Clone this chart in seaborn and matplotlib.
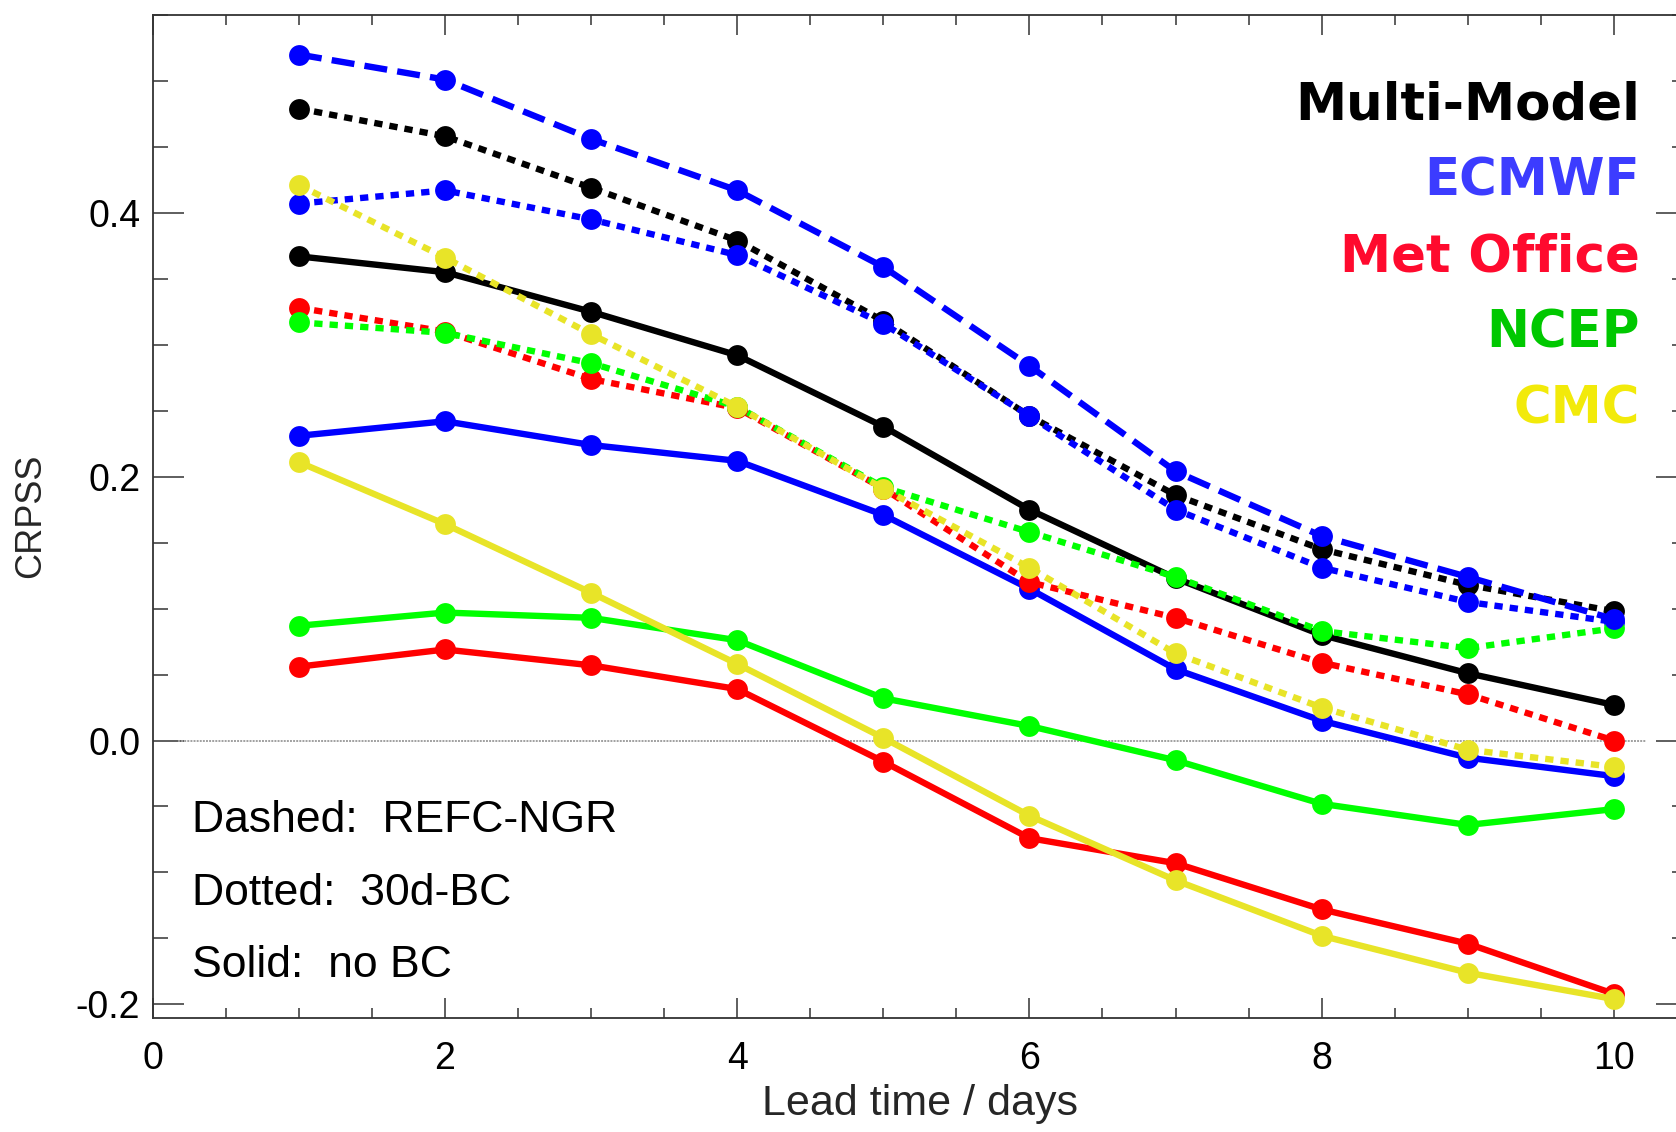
import numpy as np
import pandas as pd
import matplotlib
matplotlib.use("Agg")
import matplotlib.pyplot as plt
import seaborn as sns
from matplotlib.ticker import MultipleLocator

# ---------------- data ----------------
lead_days = [1, 2, 3, 4, 5, 6, 7, 8, 9, 10]

mm_solid   = [0.367, 0.355, 0.325, 0.292, 0.238, 0.175, 0.123, 0.080, 0.051, 0.027]
mm_dotted  = [0.479, 0.458, 0.419, 0.379, 0.318, 0.246, 0.186, 0.145, 0.118, 0.098]

ec_solid   = [0.231, 0.242, 0.224, 0.212, 0.171, 0.115, 0.054, 0.015, -0.013, -0.027]
ec_dotted  = [0.407, 0.417, 0.395, 0.368, 0.316, 0.246, 0.175, 0.131, 0.105, 0.090]
ec_dashed  = [0.520, 0.501, 0.456, 0.417, 0.359, 0.284, 0.204, 0.155, 0.124, 0.092]

mo_solid   = [0.056, 0.069, 0.057, 0.039, -0.016, -0.074, -0.093, -0.128, -0.154, -0.192]
mo_dotted  = [0.328, 0.310, 0.274, 0.252, 0.191, 0.120, 0.093, 0.059, 0.035, 0.000]

nc_solid   = [0.087, 0.097, 0.093, 0.076, 0.032, 0.011, -0.015, -0.048, -0.064, -0.052]
nc_dotted  = [0.317, 0.309, 0.286, 0.253, 0.192, 0.158, 0.124, 0.083, 0.070, 0.085]

cmc_solid  = [0.211, 0.164, 0.112, 0.058, 0.002, -0.057, -0.106, -0.148, -0.176, -0.196]
cmc_dotted = [0.421, 0.366, 0.308, 0.253, 0.191, 0.131, 0.066, 0.025, -0.007, -0.020]

model_names  = ["Multi-Model", "ECMWF", "Met Office", "NCEP", "CMC"]
line_colors  = ["#000000", "#0000ff", "#ff0000", "#00ff00", "#e8e428"]
label_colors = ["#000000", "#3c3cff", "#ff0a2e", "#00c800", "#f2ea0a"]

x_ticks = [0, 2, 4, 6, 8, 10]
y_ticks = [-0.2, 0.0, 0.2, 0.4]
y_ticklabels = ["-0.2", "0.0", "0.2", "0.4"]

notes = ["Dashed:  REFC-NGR", "Dotted:  30d-BC", "Solid:  no BC"]

# ---------------- style ----------------
sns.set_style("ticks")
plt.rcParams["font.family"] = ["Liberation Sans", "DejaVu Sans"]

fig = plt.figure(figsize=(16.76, 11.32), dpi=100)
ax = fig.add_axes([0.0912, 0.1011, 0.9153, 0.8857])

# zero reference line
ax.plot([0.17, 10.22], [0.0, 0.0], color="#a0a0a0", lw=1.4,
        linestyle=(0, (1, 0.6)), zorder=1)

LW = 4.6
MS = 15
dotted = (0, (1.3, 1.1))
dashed = (0, (3.6, 1.6))

series = [
    # solid (no BC)
    (mm_solid, 0, "-"), (ec_solid, 1, "-"), (mo_solid, 2, "-"),
    (nc_solid, 3, "-"), (cmc_solid, 4, "-"),
    # dotted (30d-BC)
    (mm_dotted, 0, dotted), (ec_dotted, 1, dotted), (mo_dotted, 2, dotted),
    (nc_dotted, 3, dotted), (cmc_dotted, 4, dotted),
    # dashed (REFC-NGR)
    (ec_dashed, 1, dashed),
]

z = 2
for vals, mi, ls in series:
    df = pd.DataFrame({"lead": lead_days, "crpss": vals})
    sns.lineplot(data=df, x="lead", y="crpss", ax=ax, color=line_colors[mi],
                 linestyle=ls, linewidth=LW, marker="o", markersize=MS,
                 markeredgewidth=0, markerfacecolor=line_colors[mi],
                 dash_capstyle="butt", zorder=z)
    z += 1

ax.set_xlim(0, 10.5)
ax.set_ylim(-0.21, 0.55)

ax.set_xticks(x_ticks)
ax.set_xticklabels([str(t) for t in x_ticks])
ax.xaxis.set_minor_locator(MultipleLocator(0.5))
ax.set_yticks(y_ticks)
ax.set_yticklabels(y_ticklabels)
ax.yaxis.set_minor_locator(MultipleLocator(0.05))

for s in ax.spines.values():
    s.set_visible(True)
    s.set_color("#333333")
    s.set_linewidth(1.3)

ax.tick_params(axis="x", which="major", direction="in", length=14.5, width=1.1,
               top=True, bottom=True, labelsize=27, pad=17, colors="#333333",
               labelcolor="black")
ax.tick_params(axis="x", which="minor", direction="in", length=7.2, width=1.1,
               top=True, bottom=True, colors="#333333")
ax.tick_params(axis="y", which="major", direction="in", length=22, width=1.1,
               left=True, right=True, labelsize=27, pad=9, colors="#333333",
               labelcolor="black")
ax.tick_params(axis="y", which="minor", direction="in", length=11, width=1.1,
               left=True, right=True, colors="#333333")

ax.set_xlabel("Lead time / days", fontsize=31)
ax.set_ylabel("CRPSS", fontsize=26)
ax.xaxis.set_label_coords(0.5, -0.066)
ax.yaxis.set_label_coords(-0.068, 0.5)

# model labels (right-aligned, bold)
label_y = [0.4706, 0.413, 0.3554, 0.2978, 0.2402]
for name, c, yy in zip(model_names, label_colors, label_y):
    ax.text(10.18, yy, name, color=c, fontsize=37, fontweight="bold",
            family="DejaVu Sans", ha="right", va="baseline", zorder=20)

# line-style notes
note_y = [-0.0695, -0.1244, -0.1796]
for t, yy in zip(notes, note_y):
    ax.text(0.27, yy, t, fontsize=32, ha="left", va="baseline", color="black",
            zorder=20)

fig.savefig("out.png", dpi=100)
